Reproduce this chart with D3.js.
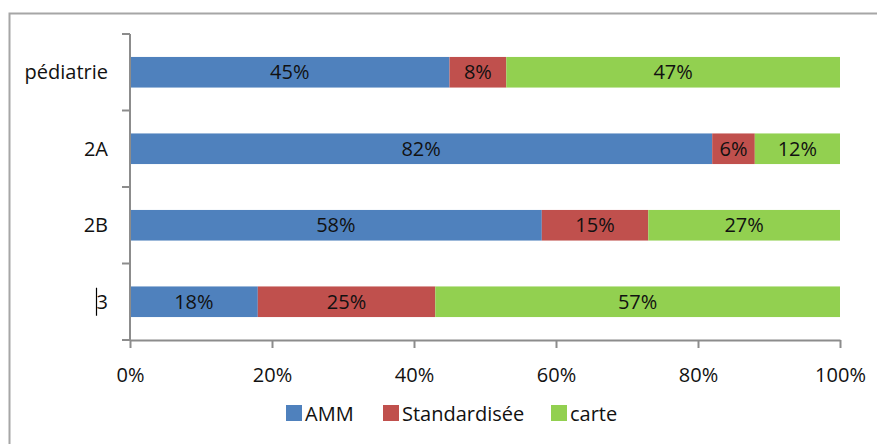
<!DOCTYPE html>
<html><head><meta charset="utf-8">
<script src="https://cdn.jsdelivr.net/npm/d3@7"></script>
<style>body{margin:0;background:#fff}svg{display:block;font-family:"Open Sans",sans-serif}</style>
</head><body><svg id="c" width="877" height="444"></svg>
<script>
const categories = ["pédiatrie", "2A", "2B", "3"];
const seriesNames = ["AMM", "Standardisée", "carte"];
const amm = [45, 82, 58, 18];
const standardisee = [8, 6, 15, 25];
const carte = [47, 12, 27, 57];
const xTicks = [0, 20, 40, 60, 80, 100];
const colors = ["#4F81BD", "#C0504D", "#92D050"];
const FS = 20;
const TXT = "#111";

const svg = d3.select("#c");
// outer frame
svg.append("path").attr("d", "M9.5,444 V13.5 H877").attr("fill", "none").attr("stroke", "#a6a6a6").attr("stroke-width", 2);

const x = d3.scaleLinear().domain([0, 100]).range([130, 840]);
const y = d3.scaleBand().domain(categories).range([34, 340]).paddingInner(0.6).paddingOuter(0.3);

const rows = categories.map((c, i) => ({cat: c, AMM: amm[i], "Standardisée": standardisee[i], carte: carte[i]}));
const stacked = d3.stack().keys(seriesNames)(rows);

const g = svg.append("g");
stacked.forEach((s, si) => {
  const gs = g.append("g");
  gs.selectAll("rect").data(s).join("rect")
    .attr("x", d => x(d[0])).attr("width", d => x(d[1]) - x(d[0]))
    .attr("y", d => y(d.data.cat)).attr("height", y.bandwidth())
    .attr("fill", colors[si]);
  gs.selectAll("text").data(s).join("text")
    .attr("x", d => (x(d[0]) + x(d[1])) / 2)
    .attr("y", d => y(d.data.cat) + y.bandwidth() / 2 + 7)
    .attr("text-anchor", "middle").attr("font-size", FS).attr("fill", TXT)
    .text(d => (d[1] - d[0]) + "%");
});

// y axis
const yAxisG = svg.append("g");
yAxisG.append("line").attr("x1", 130).attr("x2", 130).attr("y1", 34).attr("y2", 341).attr("stroke", "#8c8c8c").attr("stroke-width", 2);
const yTickPos = [34].concat(categories.map(c => y(c) + y.bandwidth() / 2 + y.step() / 2));
yAxisG.selectAll("line.t").data(yTickPos).join("line").attr("class", "t")
  .attr("x1", 122).attr("x2", 130).attr("y1", d => d).attr("y2", d => d)
  .attr("stroke", "#8c8c8c").attr("stroke-width", 2);
yAxisG.selectAll("text").data(categories).join("text")
  .attr("x", 108).attr("y", d => y(d) + y.bandwidth() / 2 + 7)
  .attr("text-anchor", "end").attr("font-size", FS).attr("fill", TXT)
  .text(d => d);
// cursor artifact next to "3"
yAxisG.append("line").attr("x1", 96.5).attr("x2", 96.5)
  .attr("y1", y("3") + y.bandwidth() / 2 - 14).attr("y2", y("3") + y.bandwidth() / 2 + 14)
  .attr("stroke", "#000").attr("stroke-width", 1.2);

// x axis
const xAxis = d3.axisBottom(x).tickValues(xTicks).tickFormat(d => d + "%").tickSize(8).tickSizeOuter(0);
const xg = svg.append("g").attr("transform", "translate(0,340)").call(xAxis);
xg.select(".domain").attr("stroke", "#8c8c8c").attr("stroke-width", 2);
xg.selectAll(".tick line").attr("stroke", "#8c8c8c").attr("stroke-width", 2);
xg.selectAll(".tick text").attr("font-size", FS).attr("fill", TXT).attr("font-family", "'Open Sans',sans-serif").attr("dy", 0).attr("y", 42);

// legend
const legX = [286, 383, 551];
const leg = svg.append("g").selectAll("g").data(seriesNames).join("g")
  .attr("transform", (d, i) => `translate(${legX[i]},405)`);
leg.append("rect").attr("width", 16).attr("height", 16).attr("fill", (d, i) => colors[i]);
leg.append("text").attr("x", 19).attr("y", 15.5).attr("font-size", FS).attr("fill", TXT).text(d => d);
</script></body></html>
